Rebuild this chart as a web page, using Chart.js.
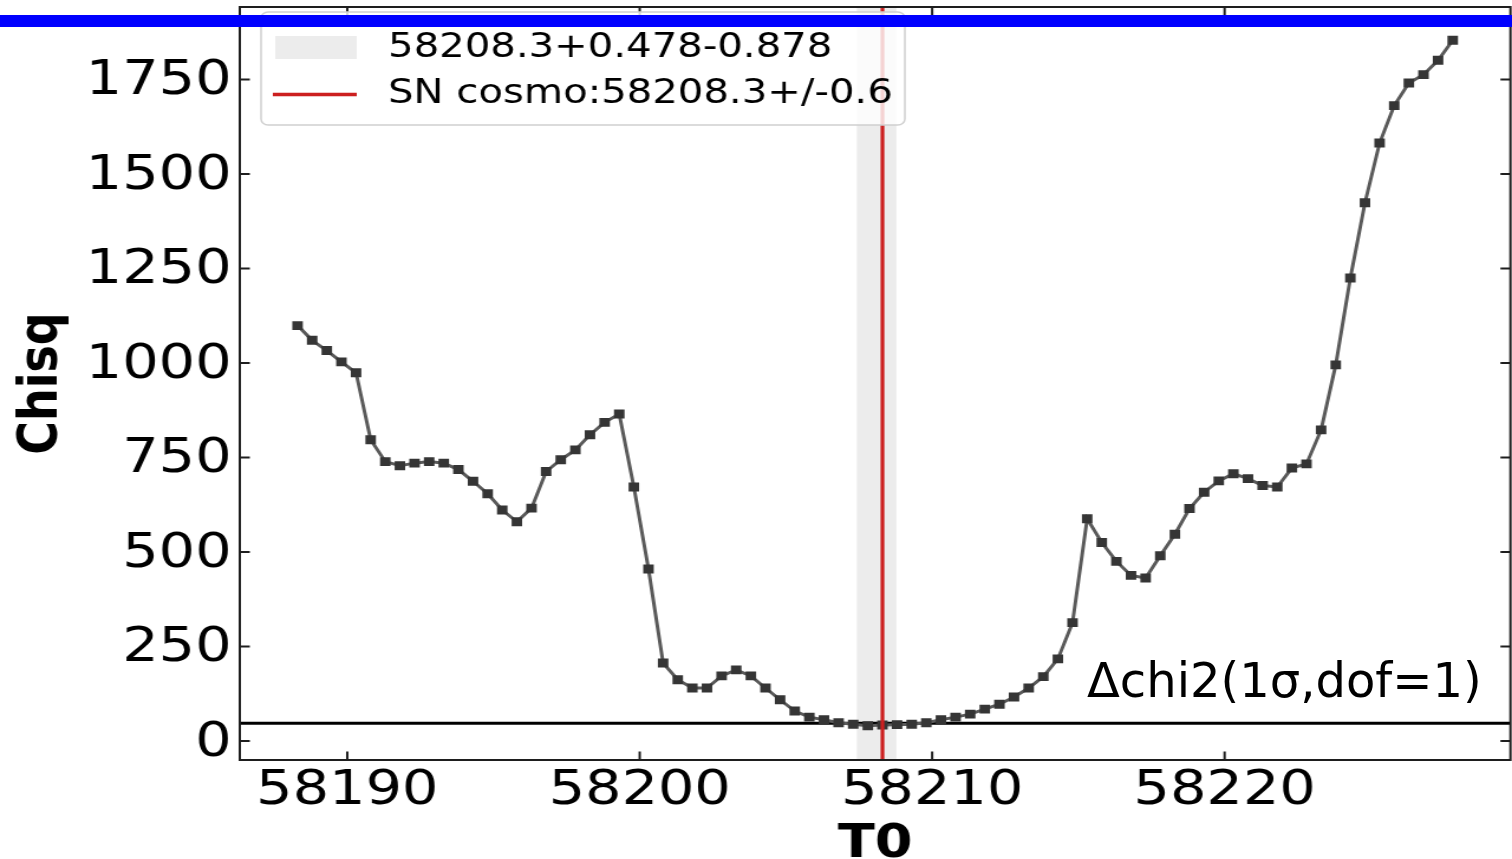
<!DOCTYPE html>
<html>
<head>
<meta charset="utf-8">
<script src="https://cdn.jsdelivr.net/npm/chart.js@4.4.1/dist/chart.umd.min.js"></script>
<style>
  html, body { margin: 0; padding: 0; background: #fff; overflow: hidden; }
  #wrap { position: relative; width: 1512px; height: 859px; overflow: hidden; }
  /* the source figure is a stretched matplotlib image, so the canvas is stretched the same way */
  #stretch { position: absolute; left: 0; top: 0; width: 1285px; height: 859px; transform: scaleX(1.18125); transform-origin: 0 0; }
  #bar { position: absolute; left: 0; top: 15px; width: 1512px; height: 12px; background: #0000ff; }
  #note { position: absolute; left: 1087px; top: 656px; font-family: "DejaVu Sans"; font-size: 48px; line-height: 48px; color: #000; white-space: nowrap; }
</style>
</head>
<body>
<div id="wrap">
  <div id="stretch"><canvas id="chisqChart" width="1285" height="859"></canvas></div>
  <div id="bar"></div>
  <div id="note">Δchi2(1σ,dof=1)</div>
</div>
<script>
const t0 = [
  58188.3, 58188.8, 58189.3, 58189.8, 58190.3, 58190.8, 58191.3, 58191.8, 58192.3, 58192.8,
  58193.3, 58193.8, 58194.3, 58194.8, 58195.3, 58195.8, 58196.3, 58196.8, 58197.3, 58197.8,
  58198.3, 58198.8, 58199.3, 58199.8, 58200.3, 58200.8, 58201.3, 58201.8, 58202.3, 58202.8,
  58203.3, 58203.8, 58204.3, 58204.8, 58205.3, 58205.8, 58206.3, 58206.8, 58207.3, 58207.8,
  58208.3, 58208.8, 58209.3, 58209.8, 58210.3, 58210.8, 58211.3, 58211.8, 58212.3, 58212.8,
  58213.3, 58213.8, 58214.3, 58214.8, 58215.3, 58215.8, 58216.3, 58216.8, 58217.3, 58217.8,
  58218.3, 58218.8, 58219.3, 58219.8, 58220.3, 58220.8, 58221.3, 58221.8, 58222.3, 58222.8,
  58223.3, 58223.8, 58224.3, 58224.8, 58225.3, 58225.8, 58226.3, 58226.8, 58227.3, 58227.8
];
const chisq = [
  1099, 1060, 1033, 1003, 974, 797, 739, 728, 735, 739,
  735, 718, 687, 654, 611, 580, 616, 713, 744, 770,
  810, 843, 865, 672, 455, 206, 162, 140, 140, 172,
  188, 172, 140, 109, 79, 63, 56, 48, 44, 40,
  42, 43, 44, 48, 56, 63, 71, 84, 97, 116,
  140, 170, 217, 313, 588, 525, 475, 438, 431, 490,
  547, 615, 658, 688, 707, 694, 676, 672, 722, 733,
  823, 995, 1225, 1424, 1582, 1681, 1741, 1763, 1801, 1854
];
const xTicks = [58190, 58200, 58210, 58220];
const yTicks = [0, 250, 500, 750, 1000, 1250, 1500, 1750];

const bestT0 = 58208.3, errHi = 0.478, errLo = 0.878;
const snT0 = 58208.3;
const dchi2Level = 47;
const bandLabel = '58208.3+0.478-0.878';
const snLabel = 'SN cosmo:58208.3+/-0.6';

const xMin = 58186.325, xMax = 58229.775;
const yMin = -50.5, yMax = 1942;

Chart.defaults.font.family = 'DejaVu Sans';
Chart.defaults.color = '#000';

const extras = {
  id: 'extras',
  beforeDatasetsDraw(chart) {
    const {ctx, chartArea: a, scales: {x}} = chart;
    const x0 = x.getPixelForValue(bestT0 - errLo);
    const x1 = x.getPixelForValue(bestT0 + errHi);
    ctx.save();
    ctx.fillStyle = 'rgba(128,128,128,0.15)';
    ctx.fillRect(x0, a.top, x1 - x0, a.bottom - a.top);
    ctx.restore();
  },
  afterDatasetsDraw(chart) {
    const {ctx, chartArea: a, scales: {x, y}} = chart;
    const len = 8.5;
    ctx.save();
    ctx.strokeStyle = '#1e1e1e';
    ctx.lineWidth = 2;
    ctx.strokeRect(a.left, a.top, a.right - a.left, a.bottom - a.top);
    ctx.beginPath();
    xTicks.forEach(v => {
      const px = x.getPixelForValue(v);
      ctx.moveTo(px, a.bottom); ctx.lineTo(px, a.bottom - len);
      ctx.moveTo(px, a.top); ctx.lineTo(px, a.top + len);
    });
    yTicks.forEach(v => {
      const py = y.getPixelForValue(v);
      ctx.moveTo(a.left, py); ctx.lineTo(a.left + len, py);
      ctx.moveTo(a.right, py); ctx.lineTo(a.right - len, py);
    });
    ctx.stroke();
    ctx.restore();
  },
  afterDraw(chart) {
    // legend box, matplotlib style
    const ctx = chart.ctx;
    ctx.save();
    ctx.beginPath();
    ctx.roundRect(221, 12, 545, 113, 6);
    ctx.fillStyle = 'rgba(255,255,255,0.8)';
    ctx.fill();
    ctx.strokeStyle = '#d0d0d0';
    ctx.lineWidth = 1.5;
    ctx.stroke();

    ctx.fillStyle = 'rgba(128,128,128,0.15)';
    ctx.fillRect(233, 36, 69, 23);

    ctx.strokeStyle = '#cc1f1f';
    ctx.lineWidth = 3.3;
    ctx.beginPath();
    ctx.moveTo(231, 94.5);
    ctx.lineTo(302, 94.5);
    ctx.stroke();

    ctx.fillStyle = '#000';
    ctx.font = '34px "DejaVu Sans"';
    ctx.textBaseline = 'middle';
    ctx.fillText(bandLabel, 328.5, 48);
    ctx.fillText(snLabel, 328.5, 94);
    ctx.restore();
  }
};

const ctx = document.getElementById('chisqChart').getContext('2d');

new Chart(ctx, {
  type: 'scatter',
  data: {
    datasets: [
      {
        label: snLabel,
        data: [{x: snT0, y: yMin}, {x: snT0, y: yMax}],
        showLine: true,
        borderColor: '#cc1f1f',
        borderWidth: 3.2,
        pointRadius: 0,
        order: 0
      },
      {
        label: 'Chisq',
        data: t0.map((v, i) => ({x: v, y: chisq[i]})),
        showLine: true,
        borderColor: '#5a5a5a',
        borderWidth: 3,
        pointStyle: 'rect',
        pointRadius: 6.3,
        pointBackgroundColor: '#353535',
        pointBorderColor: '#353535',
        pointBorderWidth: 0,
        order: 1
      },
      {
        label: 'dchi2',
        data: [{x: xMin, y: dchi2Level}, {x: xMax, y: dchi2Level}],
        showLine: true,
        borderColor: '#000',
        borderWidth: 3,
        pointRadius: 0,
        order: 2
      }
    ]
  },
  options: {
    responsive: false,
    animation: false,
    events: [],
    layout: {padding: {top: 7, right: 2, left: 0, bottom: 0}},
    plugins: {
      legend: {display: false},
      tooltip: {enabled: false}
    },
    scales: {
      x: {
        type: 'linear',
        min: xMin,
        max: xMax,
        afterBuildTicks: s => { s.ticks = xTicks.map(v => ({value: v})); },
        afterFit: s => { s.height = 99; s.paddingLeft = 0; s.paddingRight = 0; },
        grid: {display: false, drawTicks: false},
        border: {display: false},
        ticks: {
          maxRotation: 0,
          padding: 7,
          color: '#000',
          font: {size: 48.5, lineHeight: 1},
          callback: v => String(v)
        },
        title: {
          display: true,
          text: 'T0',
          color: '#000',
          font: {size: 46, weight: 'bold', lineHeight: 1},
          padding: {top: 0, bottom: -9}
        }
      },
      y: {
        type: 'linear',
        min: yMin,
        max: yMax,
        afterBuildTicks: s => { s.ticks = yTicks.map(v => ({value: v})); },
        afterFit: s => { s.width = 203; s.paddingTop = 0; s.paddingBottom = 0; },
        grid: {display: false, drawTicks: false},
        border: {display: false},
        ticks: {
          padding: 7,
          labelOffset: 2,
          color: '#000',
          font: {size: 48.5, lineHeight: 1},
          callback: v => String(v)
        },
        title: {
          display: true,
          text: 'Chisq',
          color: '#000',
          font: {size: 46, weight: 'bold', lineHeight: 1},
          padding: {top: 13, bottom: 0}
        }
      }
    }
  },
  plugins: [extras]
});
</script>
</body>
</html>
